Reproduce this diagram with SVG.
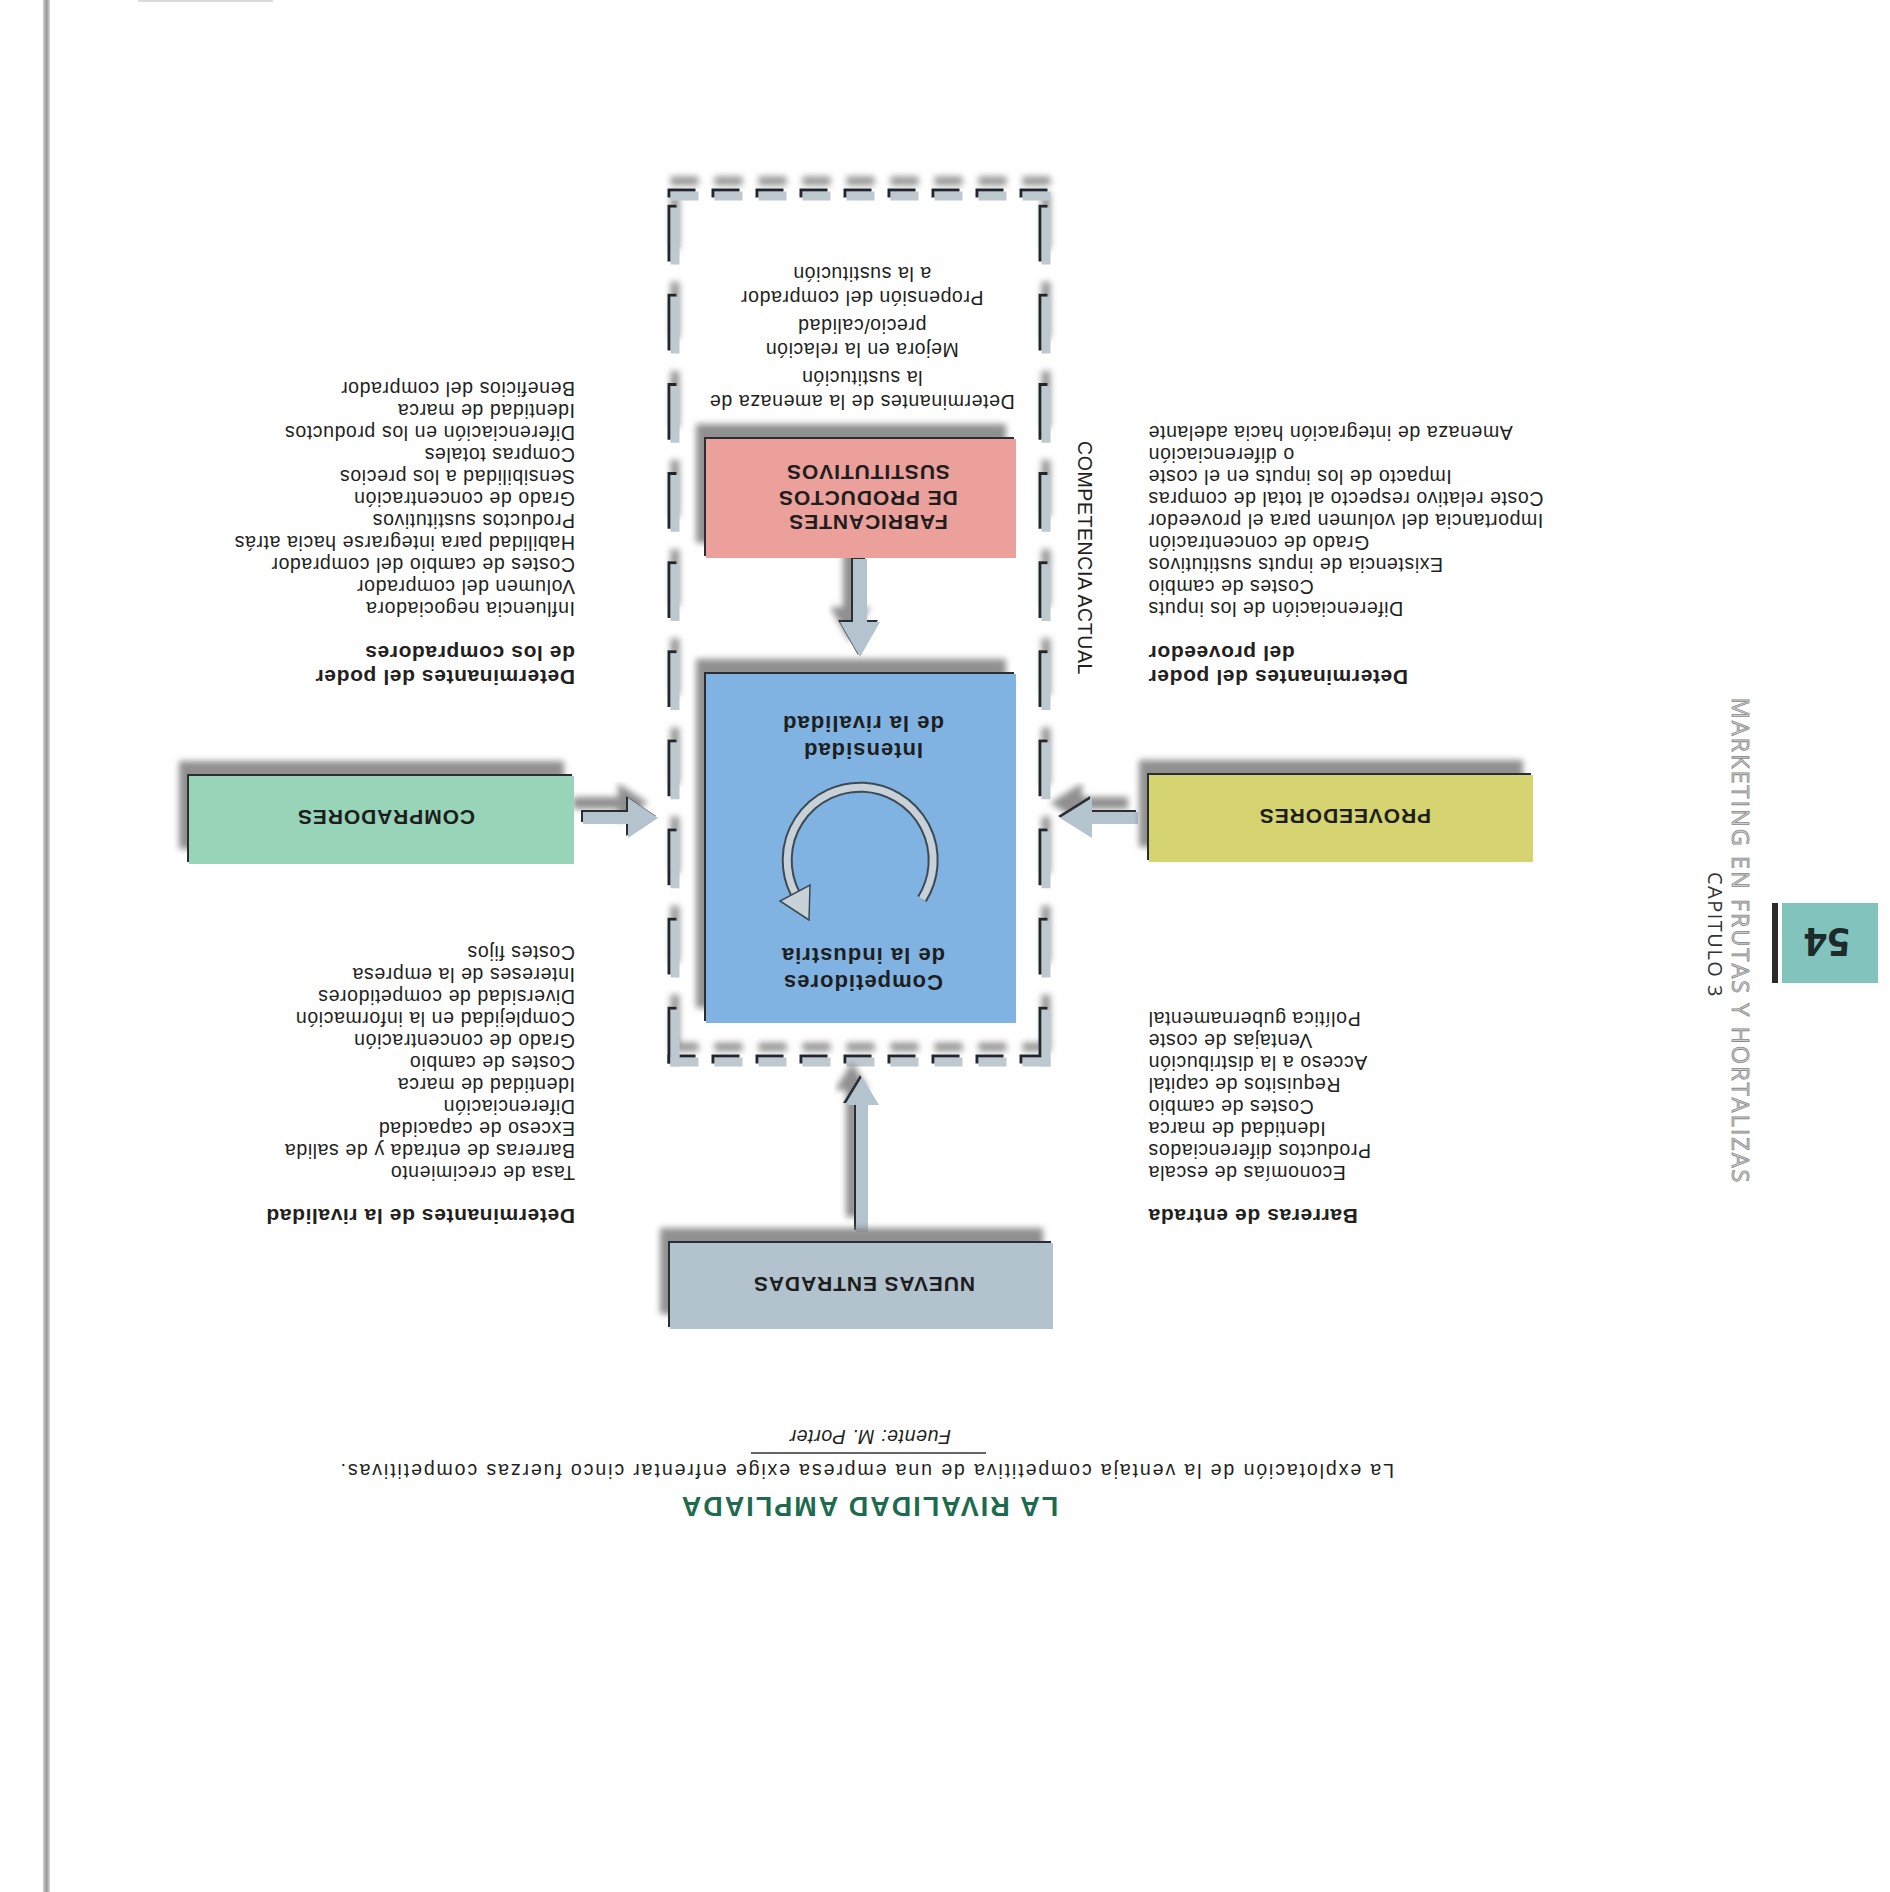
<svg xmlns="http://www.w3.org/2000/svg" width="1890" height="1892" viewBox="0 0 1890 1892">
<style>
.t{font-family:'Liberation Sans',Arial,sans-serif;font-size:19.5px;letter-spacing:0.6px;fill:#231f20}
.b{font-weight:700;font-size:21px}
.e{text-anchor:end}
.m{text-anchor:middle}
.lbl{font-family:'Liberation Sans',Arial,sans-serif;font-weight:700;font-size:21px;letter-spacing:0.9px;fill:#1e1e1e;text-anchor:middle}
.lb2{font-size:22px;letter-spacing:1px}
.arw{fill:#b4c4cf;filter:url(#fx)}
.dash{fill:none;stroke-width:9;stroke-dasharray:28 16}
</style>
<defs>
<filter id="fx" x="-20%" y="-20%" width="150%" height="160%">
<feGaussianBlur in="SourceAlpha" stdDeviation="3" result="b"/>
<feOffset in="b" dx="10" dy="15" result="o"/>
<feFlood flood-color="#7c7c7c" flood-opacity="0.85"/>
<feComposite in2="o" operator="in" result="s"/>
<feOffset in="SourceAlpha" dx="2" dy="2" result="e"/>
<feFlood flood-color="#2a2f33"/>
<feComposite in2="e" operator="in" result="ed"/>
<feMerge><feMergeNode in="s"/><feMergeNode in="ed"/><feMergeNode in="SourceGraphic"/></feMerge>
</filter>
<filter id="dsh" x="-10%" y="-10%" width="120%" height="120%">
<feGaussianBlur in="SourceAlpha" stdDeviation="3" result="b"/>
<feOffset in="b" dx="0" dy="15" result="o"/>
<feFlood flood-color="#858585" flood-opacity="0.85"/>
<feComposite in2="o" operator="in" result="s"/>
<feOffset in="SourceAlpha" dx="3" dy="3" result="e"/>
<feFlood flood-color="#22272b"/>
<feComposite in2="e" operator="in" result="ed"/>
<feMerge><feMergeNode in="s"/><feMergeNode in="ed"/><feMergeNode in="SourceGraphic"/></feMerge>
</filter>
<linearGradient id="edge" x1="0" x2="1" y1="0" y2="0">
<stop offset="0" stop-color="#d0d0d0"/><stop offset="0.5" stop-color="#9a9a9a"/><stop offset="1" stop-color="#d8d8d8"/>
</linearGradient>
</defs>
<rect width="1890" height="1892" fill="#ffffff"/>
<g id="page-edge">
<rect x="43" y="0" width="7" height="1892" fill="url(#edge)"/>
<rect x="138" y="0" width="135" height="2" fill="#dcdcdc"/>
</g>
<g id="page" transform="rotate(180 945 946)">
<g id="frame-competencia-actual" filter="url(#dsh)">
<path class="dash" stroke="#bec8cf" d="M839.5 830H1219.5M839.5 1696H1219.5"/>
<path class="dash" stroke="#bec8cf" pathLength="864" d="M844 825.5V1700.5M1215 825.5V1700.5"/>
</g>
<text class="t" x="812" y="1334" text-anchor="middle" font-size="19" transform="rotate(-90 812 1334)">COMPETENCIA ACTUAL</text>
<g id="connectors">
<polygon class="arw" points="1023,1333 1023,1270 1010,1270 1030,1235 1050,1270 1037,1270 1037,1333"/>
<polygon class="arw" points="1307,1068 1262,1068 1262,1054 1232,1074 1262,1094 1262,1080 1307,1080"/>
<polygon class="arw" points="752,1068 798,1068 798,1054 830,1074 798,1094 798,1080 752,1080"/>
<polygon class="arw" points="1022,660 1022,787 1011,787 1028,815 1045,787 1034,787 1034,660"/>
</g>
<g id="node-sustitutos">
<rect x="874" y="1334" width="310" height="119" fill="#eca09b" filter="url(#fx)"/>
<text class="lbl" x="1022" y="1377">FABRICANTES</text>
<text class="lbl" x="1022" y="1401">DE PRODUCTOS</text>
<text class="lbl" x="1022" y="1427">SUSTITUTIVOS</text>
</g>
<g id="node-competidores">
<rect x="874" y="869" width="310" height="349" fill="#80b3e2" filter="url(#fx)"/>
<text class="lbl lb2" x="1027" y="917">Competidores</text>
<text class="lbl lb2" x="1027" y="944">de la industria</text>
<path d="M968 993A73 73 0 1 0 1095 999" fill="none" stroke="#3c4a55" stroke-width="11"/>
<path d="M968 993A73 73 0 1 0 1095 999" fill="none" stroke="#c8d1d8" stroke-width="7"/>
<polygon points="1081,972 1110,991 1080,1007" fill="#c8d1d8" stroke="#3c4a55" stroke-width="1.5"/>
<text class="lbl lb2" x="1027" y="1149">Intensidad</text>
<text class="lbl lb2" x="1027" y="1176">de la rivalidad</text>
</g>
<g id="node-compradores">
<rect x="1316" y="1028" width="385" height="88" fill="#97d4b8" filter="url(#fx)"/>
<text class="lbl" x="1504" y="1082" letter-spacing="1.1">COMPRADORES</text>
</g>
<g id="node-proveedores">
<rect x="357" y="1030" width="384" height="87" fill="#d6d470" filter="url(#fx)"/>
<text class="lbl" x="545" y="1083">PROVEEDORES</text>
</g>
<g id="node-nuevas-entradas">
<rect x="837" y="563" width="383" height="86" fill="#b2c3cd" filter="url(#fx)"/>
<text class="lbl" x="1026" y="615" letter-spacing="1.3">NUEVAS ENTRADAS</text>
</g>
<g id="det-sustitucion" class="t m">
<text x="1028" y="1497">Determinantes de la amenaza de</text>
<text x="1028" y="1521">la sustitución</text>
<text x="1028" y="1549">Mejora en la relación</text>
<text x="1028" y="1573">precio/calidad</text>
<text x="1028" y="1601">Propensión del comprador</text>
<text x="1028" y="1625">a la sustitución</text>
</g>
<g id="det-compradores" class="t">
<text class="b" x="1315" y="1222">Determinantes del poder</text>
<text class="b" x="1315" y="1246">de los compradores</text>
<text x="1315" y="1290">Influencia negociadora</text>
<text x="1315" y="1312">Volumen del comprador</text>
<text x="1315" y="1334">Costes de cambio del comprador</text>
<text x="1315" y="1356">Habilidad para integrarse hacia atrás</text>
<text x="1315" y="1378">Productos sustitutivos</text>
<text x="1315" y="1400">Grado de concentración</text>
<text x="1315" y="1422">Sensibilidad a los precios</text>
<text x="1315" y="1444">Compras totales</text>
<text x="1315" y="1466">Diferenciación en los productos</text>
<text x="1315" y="1488">Identidad de marca</text>
<text x="1315" y="1510">Beneficios del comprador</text>
</g>
<g id="det-proveedor" class="t e">
<text class="b" x="742" y="1222">Determinantes del poder</text>
<text class="b" x="742" y="1246">del proveedor</text>
<text x="742" y="1290">Diferenciación de los inputs</text>
<text x="742" y="1312">Costes de cambio</text>
<text x="742" y="1334">Existencia de inputs sustitutivos</text>
<text x="742" y="1356">Grado de concentración</text>
<text x="742" y="1378">Importancia del volumen para el proveedor</text>
<text x="742" y="1400">Coste relativo respecto al total de compras</text>
<text x="742" y="1422">Impacto de los inputs en el coste</text>
<text x="742" y="1444">o diferenciación</text>
<text x="742" y="1466">Amenaza de integración hacia adelante</text>
</g>
<g id="det-rivalidad" class="t">
<text class="b" x="1315" y="683">Determinantes de la rivalidad</text>
<text x="1315" y="726">Tasa de crecimiento</text>
<text x="1315" y="748">Barreras de entrada y de salida</text>
<text x="1315" y="770">Exceso de capacidad</text>
<text x="1315" y="792">Diferenciación</text>
<text x="1315" y="814">Identidad de marca</text>
<text x="1315" y="836">Costes de cambio</text>
<text x="1315" y="858">Grado de concentración</text>
<text x="1315" y="880">Complejidad en la información</text>
<text x="1315" y="902">Diversidad de competidores</text>
<text x="1315" y="924">Intereses de la empresa</text>
<text x="1315" y="946">Costes fijos</text>
</g>
<g id="det-barreras" class="t e">
<text class="b" x="742" y="683">Barreras de entrada</text>
<text x="742" y="726">Economías de escala</text>
<text x="742" y="748">Productos diferenciados</text>
<text x="742" y="770">Identidad de marca</text>
<text x="742" y="792">Costes de cambio</text>
<text x="742" y="814">Requisitos de capital</text>
<text x="742" y="836">Acceso a la distribución</text>
<text x="742" y="858">Ventajas de coste</text>
<text x="742" y="880">Política gubernamental</text>
</g>
<g id="caption">
<text x="1021" y="395" text-anchor="middle" font-family="'Liberation Sans',Arial,sans-serif" font-weight="700" font-size="27" letter-spacing="2" fill="#1d6b4e">LA RIVALIDAD AMPLIADA</text>
<text class="t m" x="1023" y="428" font-size="20" fill="#333" textLength="1054" lengthAdjust="spacing">La explotación de la ventaja competitiva de una empresa exige enfrentar cinco fuerzas competitivas.</text>
<line x1="904" y1="439" x2="1139" y2="439" stroke="#333" stroke-width="1.5"/>
<text class="t m" x="1020" y="462" font-size="17" letter-spacing="0.3" font-style="italic">Fuente: M. Porter</text>
</g>
<g id="header">
<text x="158" y="951" text-anchor="middle" transform="rotate(-90 158 951)" font-family="'Open Sans','Noto Sans',sans-serif" font-size="23.5" letter-spacing="2" fill="#cfcfcf" stroke="#8a8a8a" stroke-width="0.8">MARKETING EN FRUTAS Y HORTALIZAS</text>
<text x="182" y="957" text-anchor="middle" transform="rotate(-90 182 957)" font-family="'Open Sans','Noto Sans',sans-serif" font-size="20" letter-spacing="1.5" fill="#333">CAPITULO 3</text>
<rect x="12" y="909" width="96" height="80" fill="#82c3bd"/>
<rect x="112" y="909" width="6" height="80" fill="#2b2b2b"/>
<text x="63" y="964" text-anchor="middle" font-family="'Open Sans','Noto Sans',sans-serif" font-weight="700" font-size="40" fill="#1d2b2a">54</text>
</g>
</g>
</svg>
